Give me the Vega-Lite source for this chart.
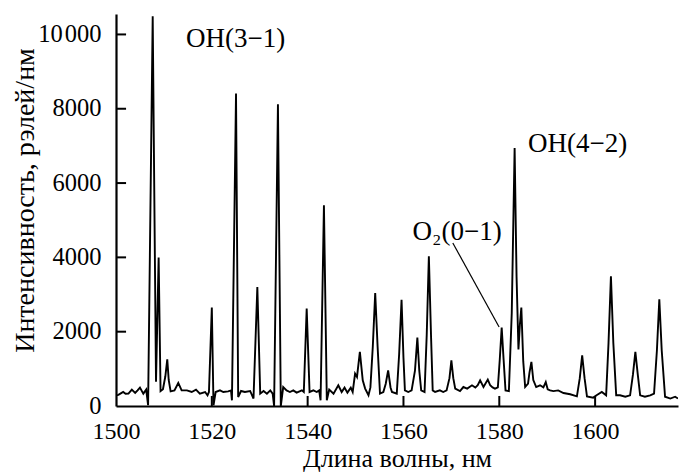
{
  "$schema": "https://vega.github.io/schema/vega-lite/v6.json",
  "width": 562,
  "height": 392,
  "autosize": {"type": "none"},
  "padding": {"left": 116, "top": 14, "right": 2, "bottom": 66},
  "background": "white",
  "config": {
    "view": {"stroke": null},
    "font": "Liberation Serif",
    "axis": {
      "domainColor": "black", "domainWidth": 2.2, "ticks": false, "grid": false,
      "labelColor": "black", "titleColor": "black",
      "labelFont": "Liberation Serif", "titleFont": "Liberation Serif",
      "labelFontSize": 24.5, "titleFontWeight": "normal"
    }
  },
  "datasets": {
    "spec": [
      {"nm": 1500.0, "I": 290}, {"nm": 1500.5, "I": 300}, {"nm": 1501.0, "I": 340}, {"nm": 1501.5, "I": 377},
      {"nm": 1502.0, "I": 330}, {"nm": 1502.6, "I": 333}, {"nm": 1503.3, "I": 441}, {"nm": 1504.0, "I": 350},
      {"nm": 1504.5, "I": 420}, {"nm": 1505.0, "I": 495}, {"nm": 1505.7, "I": 333}, {"nm": 1506.3, "I": 441},
      {"nm": 1506.7, "I": 20}, {"nm": 1507.66, "I": 10490}, {"nm": 1508.35, "I": 650}, {"nm": 1508.9, "I": 3995},
      {"nm": 1509.3, "I": 400}, {"nm": 1509.8, "I": 450}, {"nm": 1510.3, "I": 800}, {"nm": 1510.7, "I": 1257},
      {"nm": 1511.0, "I": 700}, {"nm": 1511.4, "I": 395}, {"nm": 1512.2, "I": 420}, {"nm": 1513.0, "I": 620},
      {"nm": 1513.7, "I": 420}, {"nm": 1514.8, "I": 420}, {"nm": 1515.8, "I": 377}, {"nm": 1516.7, "I": 440},
      {"nm": 1517.5, "I": 333}, {"nm": 1518.6, "I": 377}, {"nm": 1519.1, "I": 288}, {"nm": 1519.4, "I": 377},
      {"nm": 1520.0, "I": 2648}, {"nm": 1520.35, "I": 20}, {"nm": 1520.8, "I": 377}, {"nm": 1521.7, "I": 420},
      {"nm": 1522.4, "I": 377}, {"nm": 1523.4, "I": 395}, {"nm": 1524.0, "I": 420}, {"nm": 1524.2, "I": 153},
      {"nm": 1525.05, "I": 8410}, {"nm": 1525.5, "I": 242}, {"nm": 1526.1, "I": 404}, {"nm": 1526.9, "I": 377},
      {"nm": 1528.0, "I": 404}, {"nm": 1528.7, "I": 200}, {"nm": 1529.5, "I": 3204}, {"nm": 1530.1, "I": 333},
      {"nm": 1530.8, "I": 404}, {"nm": 1531.5, "I": 333}, {"nm": 1532.2, "I": 420}, {"nm": 1532.7, "I": 333},
      {"nm": 1533.0, "I": 0}, {"nm": 1533.8, "I": 8121}, {"nm": 1534.4, "I": 0}, {"nm": 1534.9, "I": 511},
      {"nm": 1535.6, "I": 420}, {"nm": 1536.3, "I": 377}, {"nm": 1537.0, "I": 420}, {"nm": 1537.7, "I": 360},
      {"nm": 1538.8, "I": 420}, {"nm": 1539.2, "I": 377}, {"nm": 1539.8, "I": 2620}, {"nm": 1540.4, "I": 377},
      {"nm": 1541.2, "I": 420}, {"nm": 1541.9, "I": 377}, {"nm": 1542.4, "I": 420}, {"nm": 1542.7, "I": 153},
      {"nm": 1543.4, "I": 5400}, {"nm": 1544.0, "I": 153}, {"nm": 1544.5, "I": 441}, {"nm": 1545.4, "I": 333},
      {"nm": 1546.4, "I": 557}, {"nm": 1547.1, "I": 377}, {"nm": 1547.7, "I": 495}, {"nm": 1548.3, "I": 360},
      {"nm": 1549.0, "I": 495}, {"nm": 1549.4, "I": 377}, {"nm": 1549.9, "I": 872}, {"nm": 1550.3, "I": 781},
      {"nm": 1550.9, "I": 1455}, {"nm": 1551.5, "I": 690}, {"nm": 1552.0, "I": 468}, {"nm": 1552.7, "I": 288},
      {"nm": 1553.1, "I": 500}, {"nm": 1553.6, "I": 1600}, {"nm": 1554.1, "I": 3040}, {"nm": 1554.6, "I": 1600},
      {"nm": 1555.1, "I": 333}, {"nm": 1555.8, "I": 377}, {"nm": 1556.3, "I": 600}, {"nm": 1556.8, "I": 960},
      {"nm": 1557.3, "I": 500}, {"nm": 1557.6, "I": 377}, {"nm": 1558.6, "I": 333}, {"nm": 1559.1, "I": 1400},
      {"nm": 1559.6, "I": 2860}, {"nm": 1560.0, "I": 1300}, {"nm": 1560.3, "I": 420}, {"nm": 1561.0, "I": 377},
      {"nm": 1561.7, "I": 420}, {"nm": 1562.4, "I": 950}, {"nm": 1562.9, "I": 1840}, {"nm": 1563.3, "I": 950},
      {"nm": 1563.7, "I": 420}, {"nm": 1564.4, "I": 377}, {"nm": 1564.85, "I": 1900}, {"nm": 1565.3, "I": 4030},
      {"nm": 1565.75, "I": 1900}, {"nm": 1566.1, "I": 420}, {"nm": 1566.6, "I": 377}, {"nm": 1567.6, "I": 420},
      {"nm": 1568.3, "I": 377}, {"nm": 1569.0, "I": 420}, {"nm": 1569.6, "I": 750}, {"nm": 1570.0, "I": 1230},
      {"nm": 1570.4, "I": 750}, {"nm": 1570.8, "I": 468}, {"nm": 1571.8, "I": 404}, {"nm": 1572.5, "I": 511},
      {"nm": 1573.3, "I": 468}, {"nm": 1574.3, "I": 557}, {"nm": 1575.0, "I": 495}, {"nm": 1575.5, "I": 560},
      {"nm": 1576.0, "I": 690}, {"nm": 1576.7, "I": 511}, {"nm": 1577.6, "I": 710}, {"nm": 1578.1, "I": 557},
      {"nm": 1578.6, "I": 500}, {"nm": 1579.1, "I": 468}, {"nm": 1579.7, "I": 500}, {"nm": 1580.1, "I": 1250},
      {"nm": 1580.5, "I": 2110}, {"nm": 1580.9, "I": 1250}, {"nm": 1581.3, "I": 420}, {"nm": 1582.0, "I": 400},
      {"nm": 1582.6, "I": 2500}, {"nm": 1583.2, "I": 6945}, {"nm": 1583.6, "I": 3500}, {"nm": 1584.0, "I": 1520},
      {"nm": 1584.3, "I": 2200}, {"nm": 1584.6, "I": 2650}, {"nm": 1585.0, "I": 1200}, {"nm": 1585.4, "I": 511},
      {"nm": 1586.0, "I": 600}, {"nm": 1586.3, "I": 900}, {"nm": 1586.7, "I": 1185}, {"nm": 1587.1, "I": 700},
      {"nm": 1587.7, "I": 511}, {"nm": 1588.5, "I": 557}, {"nm": 1589.2, "I": 500}, {"nm": 1589.7, "I": 646},
      {"nm": 1590.1, "I": 450}, {"nm": 1590.6, "I": 420}, {"nm": 1591.3, "I": 400}, {"nm": 1592.3, "I": 420},
      {"nm": 1593.4, "I": 350}, {"nm": 1594.8, "I": 315}, {"nm": 1596.2, "I": 260}, {"nm": 1596.8, "I": 750},
      {"nm": 1597.3, "I": 1365}, {"nm": 1597.8, "I": 750}, {"nm": 1598.3, "I": 260}, {"nm": 1599.6, "I": 225},
      {"nm": 1600.3, "I": 288}, {"nm": 1601.4, "I": 377}, {"nm": 1602.3, "I": 288}, {"nm": 1602.8, "I": 1700},
      {"nm": 1603.3, "I": 3490}, {"nm": 1603.8, "I": 1700}, {"nm": 1604.4, "I": 288}, {"nm": 1605.2, "I": 288},
      {"nm": 1606.3, "I": 250}, {"nm": 1607.3, "I": 288}, {"nm": 1607.9, "I": 850}, {"nm": 1608.4, "I": 1455},
      {"nm": 1608.9, "I": 850}, {"nm": 1609.4, "I": 288}, {"nm": 1610.4, "I": 250}, {"nm": 1611.5, "I": 288},
      {"nm": 1612.3, "I": 333}, {"nm": 1612.9, "I": 1500}, {"nm": 1613.4, "I": 2870}, {"nm": 1613.9, "I": 1500},
      {"nm": 1614.6, "I": 250}, {"nm": 1615.7, "I": 200}, {"nm": 1616.7, "I": 250}, {"nm": 1617.3, "I": 200}
    ],
    "labels": [
      {"x": 1514.6, "y": 9664, "text": "OH(3−1)"},
      {"x": 1586.0, "y": 6838, "text": "OH(4−2)"},
      {"x": 1561.9, "y": 4460, "text": "O₂(0−1)"}
    ],
    "leader": [
      {"x": 1570.3, "y": 4388, "x2": 1579.96, "y2": 2127}
    ],
    "xticks": [
      {"x": 1520, "y": 0, "y2": 270}, {"x": 1540, "y": 0, "y2": 270}, {"x": 1560, "y": 0, "y2": 270},
      {"x": 1580, "y": 0, "y2": 270}, {"x": 1600, "y": 0, "y2": 270}
    ],
    "yticks": [
      {"y": 2000, "x": 1500, "x2": 1502.1}, {"y": 4000, "x": 1500, "x2": 1502.1}, {"y": 6000, "x": 1500, "x2": 1502.1},
      {"y": 8000, "x": 1500, "x2": 1502.1}, {"y": 10000, "x": 1500, "x2": 1502.1}
    ]
  },
  "layer": [
    {
      "data": {"name": "spec"},
      "mark": {"type": "line", "color": "black", "strokeWidth": 1.9, "clip": true, "interpolate": "linear"},
      "encoding": {
        "x": {
          "field": "nm", "type": "quantitative",
          "scale": {"domain": [1500, 1617.3], "nice": false, "zero": false},
          "axis": {"values": [1500, 1520, 1540, 1560, 1580, 1600], "format": "d",
                   "title": "Длина волны, нм", "titleFontSize": 26, "labelPadding": 13, "labelFontSize": 24,
                   "titleY": 60, "titleBaseline": "alphabetic",
                   "labelFlush": false}
        },
        "y": {
          "field": "I", "type": "quantitative",
          "scale": {"domain": [0, 10550], "nice": false},
          "axis": {"values": [0, 2000, 4000, 6000, 8000, 10000], "format": "d",
                   "labelExpr": "datum.value == 10000 ? '10\u200a000' : datum.label",
                   "title": "Интенсивность, рэлей/нм", "titleFontSize": 28, "labelPadding": 15, "labelFontSize": 24.5,
                   "titleX": -83, "titleY": 186, "titleBaseline": "alphabetic", "titleAlign": "center",
                   "titleAngle": -90, "labelFlush": false}
        }
      }
    },
    {
      "data": {"name": "xticks"},
      "mark": {"type": "rule", "color": "black", "strokeWidth": 2},
      "encoding": {
        "x": {"field": "x", "type": "quantitative"},
        "y": {"field": "y", "type": "quantitative"},
        "y2": {"field": "y2"}
      }
    },
    {
      "data": {"name": "yticks"},
      "mark": {"type": "rule", "color": "black", "strokeWidth": 2},
      "encoding": {
        "x": {"field": "x", "type": "quantitative"},
        "x2": {"field": "x2"},
        "y": {"field": "y", "type": "quantitative"}
      }
    },
    {
      "data": {"name": "leader"},
      "mark": {"type": "rule", "color": "black", "strokeWidth": 1.2},
      "encoding": {
        "x": {"field": "x", "type": "quantitative"},
        "y": {"field": "y", "type": "quantitative"},
        "x2": {"field": "x2"},
        "y2": {"field": "y2"}
      }
    },
    {
      "data": {"name": "labels"},
      "mark": {"type": "text", "align": "left", "baseline": "alphabetic", "fontSize": 27, "font": "Liberation Serif", "color": "black"},
      "encoding": {
        "x": {"field": "x", "type": "quantitative"},
        "y": {"field": "y", "type": "quantitative"},
        "text": {"field": "text"}
      }
    }
  ]
}
